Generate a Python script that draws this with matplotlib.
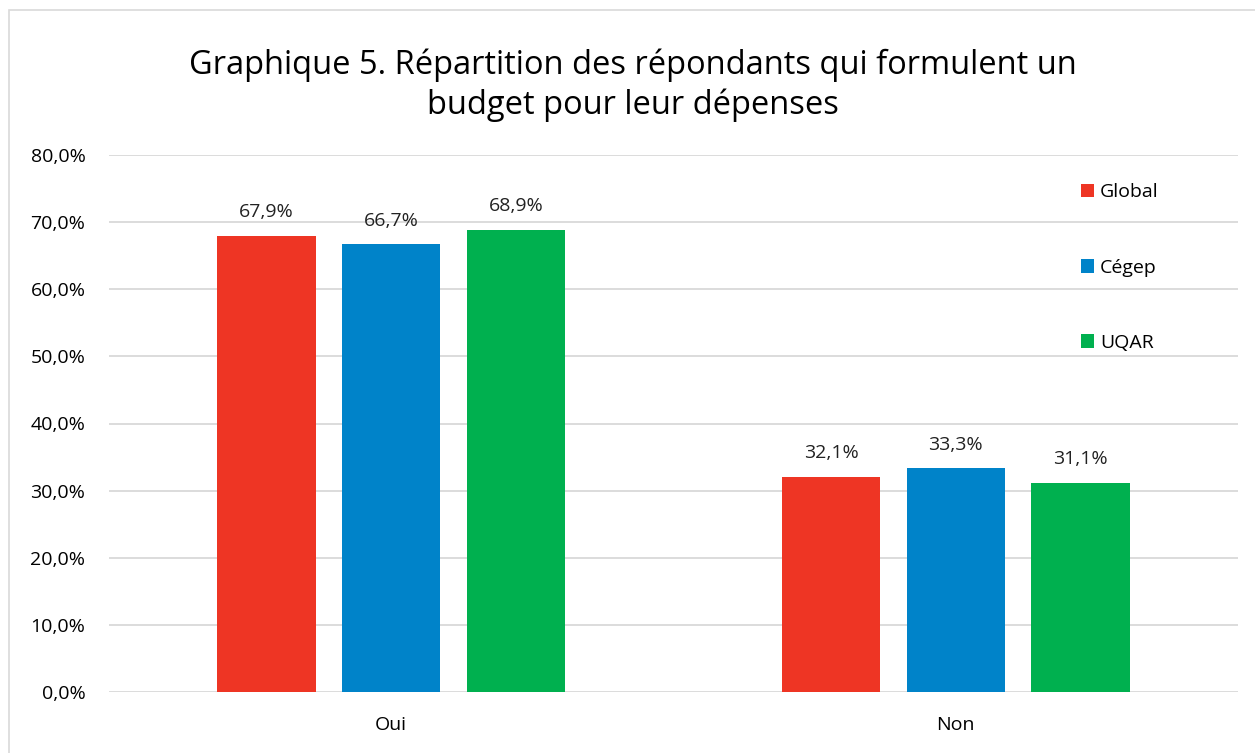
import numpy as np
import matplotlib.pyplot as plt
from matplotlib.patches import Rectangle

categories = ['Oui', 'Non']
series = ['Global', 'Cégep', 'UQAR']
values = {
    'Global': [67.9, 32.1],
    'Cégep': [66.7, 33.3],
    'UQAR': [68.9, 31.1],
}
colors = ['#EE3524', '#0083C9', '#00B04F']
yticks = [0, 10, 20, 30, 40, 50, 60, 70, 80]

plt.rcParams['font.family'] = ['Open Sans', 'DejaVu Sans']

fig = plt.figure(figsize=(12.55, 7.53), dpi=100)
ax = fig.add_axes([109/1255, 1 - 692/753, 1129/1255, 537/753])

# bordure du graphique
fig.patches.append(Rectangle((9/1255, -0.01), 1.0, 1 - 10/753 + 0.01, transform=fig.transFigure,
                             fill=False, edgecolor='#D9D9D9', linewidth=1.2))

x = np.arange(len(categories))
w = 0.174
step = 0.221
for i, s in enumerate(series):
    pos = x + (i - 1) * step
    bars = ax.bar(pos, values[s], width=w, color=colors[i], label=s, zorder=3)
    for b, v in zip(bars, values[s]):
        ax.text(b.get_x() + b.get_width() / 2, v + 2.2, f'{v:.1f}%'.replace('.', ','),
                ha='center', va='bottom', fontsize=14, color='#222222')

ax.set_xlim(-0.5, 1.5)
ax.set_ylim(0, 80)
ax.set_yticks(yticks)
ax.set_yticklabels([f'{t:.1f}%'.replace('.', ',') for t in yticks], fontsize=14)
ax.set_xticks(x)
ax.set_xticklabels(categories, fontsize=14)
ax.tick_params(length=0)
ax.tick_params(axis='x', pad=17)
ax.tick_params(axis='y', pad=17)
ax.grid(axis='y', color='#D9D9D9', linewidth=1.3, zorder=0)
for sp in ax.spines.values():
    sp.set_visible(False)

leg = ax.legend(loc='upper left', bbox_to_anchor=(0.845, 0.98), frameon=False, fontsize=14,
                handlelength=0.7, handleheight=0.7, handletextpad=0.3, labelspacing=2.95)

fig.text(0.504, 0.935, 'Graphique 5. Répartition des répondants qui formulent un\nbudget pour leur dépenses',
         ha='center', va='top', fontsize=23.5, linespacing=1.25)

fig.savefig('out.png', dpi=100)
